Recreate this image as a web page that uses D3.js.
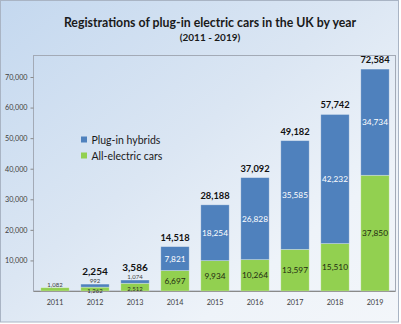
<!DOCTYPE html>
<html><head><meta charset="utf-8">
<script src="https://cdn.jsdelivr.net/npm/d3@7"></script>
<style>html,body{margin:0;padding:0;background:#fff}svg{display:block}</style>
</head><body>
<svg id="c" width="401" height="324"></svg>
<script>
const years = ["2011","2012","2013","2014","2015","2016","2017","2018","2019"];
const allElectric = [1082, 1262, 2512, 6697, 9934, 10264, 13597, 15510, 37850];
const plugInHybrids = [0, 992, 1074, 7821, 18254, 26828, 35585, 42232, 34734];
const yTicks = [10000, 20000, 30000, 40000, 50000, 60000, 70000];
const seriesNames = ["Plug-in hybrids", "All-electric cars"];
const title = "Registrations of plug-in electric cars in the UK by year";
const subtitle = "(2011 - 2019)";

const W = 401, H = 324;
const FONT = "Lato, 'Open Sans', sans-serif";
const BLUE = "#4f81bd", GREEN = "#92d050";
const svg = d3.select("#c");

const defs = svg.append("defs");
const g1 = defs.append("linearGradient").attr("id","bg").attr("x1",0).attr("y1",0).attr("x2",1).attr("y2",1);
g1.append("stop").attr("offset","0").attr("stop-color","#c4d8ef");
g1.append("stop").attr("offset","0.45").attr("stop-color","#dbe6f3");
g1.append("stop").attr("offset","0.75").attr("stop-color","#eef3f9");
g1.append("stop").attr("offset","1").attr("stop-color","#f3f6fa");

svg.append("rect").attr("x",0).attr("y",0).attr("width",W).attr("height",H).attr("fill","#fff");
svg.append("rect").attr("x",0.5).attr("y",0.5).attr("width",398).attr("height",321.5)
  .attr("fill","url(#bg)").attr("stroke","#a9b4c4").attr("stroke-width",1);

const x = d3.scaleBand().domain(years).range([35, 395]).paddingInner(0.29).paddingOuter(0.145);
const y = d3.scaleLinear().domain([0, 70000]).range([291, 77]);

// plot area box
svg.append("rect").attr("x",33.5).attr("y",55.5).attr("width",362).attr("height",235.5)
  .attr("fill","none").attr("stroke","#a3aab6").attr("stroke-width",1);

// title
svg.append("text").attr("x",210).attr("y",27).attr("text-anchor","middle")
  .attr("font-family",FONT).attr("font-weight","bold").attr("font-size",12.3).attr("fill","#1a1a1a").text(title);
svg.append("text").attr("x",210).attr("y",41).attr("text-anchor","middle")
  .attr("font-family",FONT).attr("font-weight","bold").attr("font-size",10).attr("fill","#1a1a1a").text(subtitle);

// y axis
const yAxis = svg.append("g").attr("transform","translate(33.5,0)")
  .call(d3.axisLeft(y).tickValues(yTicks).tickSize(3).tickPadding(3).tickFormat(d3.format(",")));
yAxis.select(".domain").remove();
yAxis.selectAll("line").attr("stroke","#8a8a8a");
yAxis.selectAll("text").attr("font-family",FONT).attr("font-size",7.2).attr("fill","#404040");

// x axis
const xAxis = svg.append("g").attr("transform","translate(0,291)")
  .call(d3.axisBottom(x).tickSize(0).tickPadding(9));
xAxis.select(".domain").attr("stroke","#8a8a8a").attr("d","M33.5,0.5H395.5");
xAxis.selectAll("text").attr("font-family",FONT).attr("font-size",7.2).attr("fill","#404040");

const data = years.map((yr,i)=>({yr, e: allElectric[i], h: plugInHybrids[i], t: allElectric[i]+plugInHybrids[i]}));
const bw = x.bandwidth();
const fmt = d3.format(",");

const bars = svg.append("g");
data.forEach(d=>{
  const cx = x(d.yr) + bw/2;
  bars.append("rect").attr("x",x(d.yr)).attr("width",bw).attr("y",y(d.e)).attr("height",y(0)-y(d.e))
    .attr("fill",GREEN).attr("stroke","#ffffff").attr("stroke-opacity",0.35).attr("stroke-width",0.8);
  if (d.h > 0) {
    bars.append("rect").attr("x",x(d.yr)).attr("width",bw).attr("y",y(d.t)).attr("height",y(d.e)-y(d.t))
      .attr("fill",BLUE).attr("stroke","#ffffff").attr("stroke-opacity",0.35).attr("stroke-width",0.8);
  }
  const small = d.t < 10000;
  const lab = (txt, yy, size, col, bold) => bars.append("text").attr("x",cx).attr("y",yy)
    .attr("text-anchor","middle").attr("dominant-baseline","central")
    .attr("font-family",FONT).attr("font-size",size).attr("fill",col)
    .attr("font-weight",bold?"bold":"normal").text(txt);
  if (small) {
    if (d.h === 0) {
      lab(fmt(d.e), y(d.e) - 3.5, 6, "#404040", false);
    } else {
      lab(fmt(d.e), (y(0)+y(d.e))/2 + 1, 6, "#2a2a2a", false);
      lab(fmt(d.h), y(d.t) - 3.5, 6, "#404040", false);
      lab(fmt(d.t), y(d.t) - 13, 10, "#111", true);
    }
  } else {
    lab(fmt(d.e), (y(0)+y(d.e))/2, 8.3, "#1f2a10", false);
    lab(fmt(d.h), (y(d.e)+y(d.t))/2, 8.3, "#ffffff", false);
    lab(fmt(d.t), y(d.t) - 9.5, 9.3, "#111", true);
  }
});

// legend
const legColors = [BLUE, GREEN];
seriesNames.forEach((n,i)=>{
  const ly = 139.5 + i*16;
  svg.append("rect").attr("x",81).attr("y",ly-3).attr("width",6).attr("height",6).attr("fill",legColors[i]);
  svg.append("text").attr("x",91.5).attr("y",ly).attr("dominant-baseline","central")
    .attr("font-family",FONT).attr("font-size",10.5).attr("fill","#1a1a1a").text(n);
});
</script>
</body></html>
